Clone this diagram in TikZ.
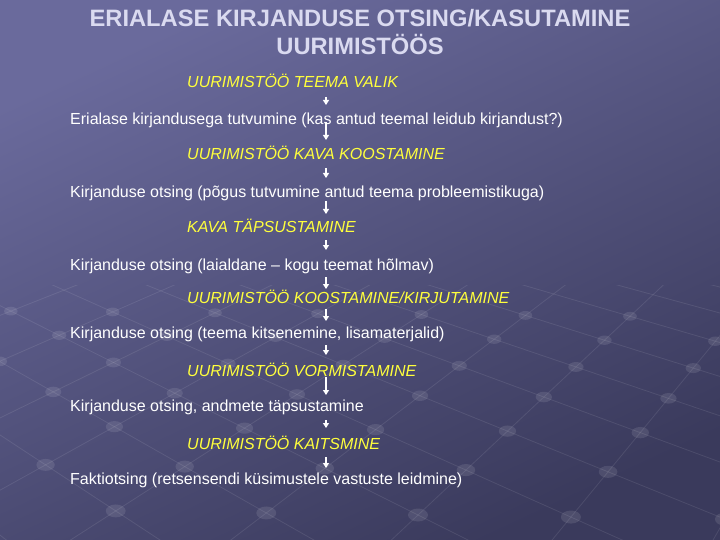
\documentclass[tikz,border=0pt]{standalone}
\usepackage{fontspec}
\setmainfont{Liberation Sans}
\usetikzlibrary{arrows.meta}
\definecolor{bgA}{HTML}{6A6A9C}
\definecolor{bgB}{HTML}{3A3A5C}
\definecolor{titlec}{HTML}{DADAF0}
\definecolor{yel}{HTML}{FFFF3C}
% perspective lattice point P(i,j) -> \lx, \ly, \lden
\newcommand\latpt[2]{%
  \pgfmathsetmacro\lden{1+(#1)*0.0768-(#2)*0.0807}%
  \pgfmathsetmacro\lx{(418+(#1)*83.712+(#2)*66.981)/\lden}%
  \pgfmathsetmacro\ly{(515-(#1)*8.832+(#2)*8.877)/\lden}}
\begin{document}
\begin{tikzpicture}[x=1pt,y=-1pt,
  titletext/.style={font=\fontsize{23.7}{28}\selectfont\bfseries, text=titlec, anchor=base, inner sep=0pt},
  steptext/.style={font=\fontsize{16}{19}\selectfont\itshape, text=yel, anchor=base west, inner sep=0pt},
  bodytext/.style={font=\fontsize{16}{19}\selectfont, text=white, anchor=base west, inner sep=0pt},
  latline/.style={draw=white, draw opacity=0.09, line width=0.8pt},
  latball/.style={fill=white, fill opacity=0.10},
  arr/.style={draw=white, line width=1.3pt, -{Triangle[width=6pt,length=5pt]}}]
\useasboundingbox (0,0) rectangle (720,540);
\shade[top color=bgA, bottom color=bgB, shading angle=25] (0,0) rectangle (720,540);
% background lattice
\begin{scope}
  \clip (0,285) rectangle (720,540);
  \foreach \j in {-9,...,3}{%
    \latpt{-6}{\j}\let\xA\lx\let\yA\ly
    \latpt{14}{\j}%
    \draw[latline] (\xA,\yA) -- (\lx,\ly);}
  \foreach \i in {-6,...,14}{%
    \latpt{\i}{-9}\let\xA\lx\let\yA\ly
    \latpt{\i}{3}%
    \draw[latline] (\xA,\yA) -- (\lx,\ly);}
\end{scope}
\begin{scope}
  \clip (0,302) rectangle (720,540);
  \foreach \i in {-6,...,14}{%
    \foreach \j in {-9,...,3}{%
      \latpt{\i}{\j}%
      \pgfmathsetmacro\rx{10/\lden}\pgfmathsetmacro\ry{6.5/\lden}%
      \fill[latball] (\lx,\ly) ellipse [x radius=\rx pt, y radius=\ry pt];}}
\end{scope}
% title
\node[titletext] (t1) at (360,27) {ERIALASE KIRJANDUSE OTSING/KASUTAMINE};
\node[titletext] (t2) at (360,55) {UURIMISTÖÖS};
% steps
\node[steptext] (s1) at (187,88) {UURIMISTÖÖ TEEMA VALIK};
\node[bodytext] (b1) at (70,125) {Erialase kirjandusega tutvumine (kas antud teemal leidub kirjandust?)};
\node[steptext] (s2) at (187,160) {UURIMISTÖÖ KAVA KOOSTAMINE};
\node[bodytext] (b2) at (70,197) {Kirjanduse otsing (põgus tutvumine antud teema probleemistikuga)};
\node[steptext] (s3) at (187,233) {KAVA TÄPSUSTAMINE};
\node[bodytext] (b3) at (70,270) {Kirjanduse otsing (laialdane – kogu teemat hõlmav)};
\node[steptext] (s4) at (187,303) {UURIMISTÖÖ KOOSTAMINE/KIRJUTAMINE};
\node[bodytext] (b4) at (70,338) {Kirjanduse otsing (teema kitsenemine, lisamaterjalid)};
\node[steptext] (s5) at (187,376) {UURIMISTÖÖ VORMISTAMINE};
\node[bodytext] (b5) at (70,411) {Kirjanduse otsing, andmete täpsustamine};
\node[steptext] (s6) at (187,449) {UURIMISTÖÖ KAITSMINE};
\node[bodytext] (b6) at (70,484) {Faktiotsing (retsensendi küsimustele vastuste leidmine)};
% arrows
\coordinate (ax) at (326,0);
\draw[arr, shorten <=9pt, shorten >=20pt] (s1.base -| ax) -- (b1.base -| ax);
\draw[arr, shorten <=-3pt, shorten >=20pt] (b1.base -| ax) -- (s2.base -| ax);
\draw[arr, shorten <=8pt, shorten >=19pt] (s2.base -| ax) -- (b2.base -| ax);
\draw[arr, shorten <=4pt, shorten >=19pt] (b2.base -| ax) -- (s3.base -| ax);
\draw[arr, shorten <=7pt, shorten >=20pt] (s3.base -| ax) -- (b3.base -| ax);
\draw[arr, shorten <=7pt, shorten >=14pt] (b3.base -| ax) -- (s4.base -| ax);
\draw[arr, shorten <=6pt, shorten >=17pt] (s4.base -| ax) -- (b4.base -| ax);
\draw[arr, shorten <=7pt, shorten >=21pt] (b4.base -| ax) -- (s5.base -| ax);
\draw[arr, shorten <=1pt, shorten >=16pt] (s5.base -| ax) -- (b5.base -| ax);
\draw[arr, shorten <=9pt, shorten >=21pt] (b5.base -| ax) -- (s6.base -| ax);
\draw[arr, shorten <=8pt, shorten >=16pt] (s6.base -| ax) -- (b6.base -| ax);
\end{tikzpicture}
\end{document}
